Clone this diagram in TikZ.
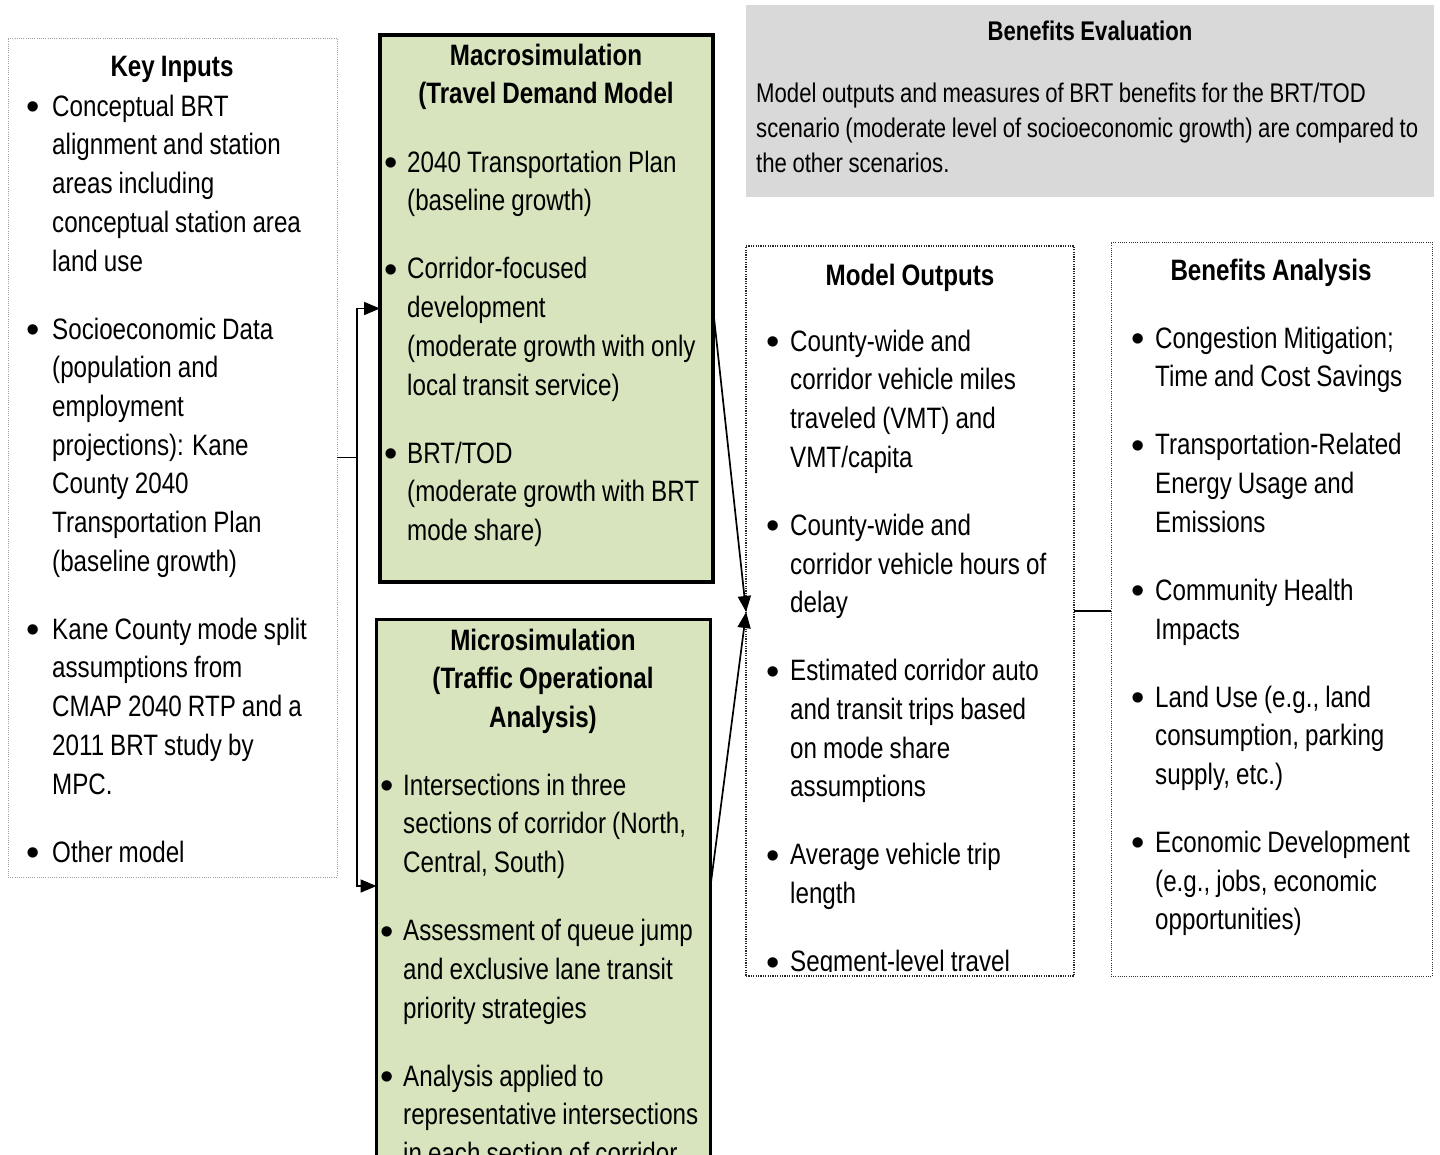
\documentclass[tikz,border=0pt]{standalone}
\usepackage{fontspec}
\setmainfont{Liberation Sans}[FakeStretch=0.82,WordSpace=0.9]
\newfontfamily\bulfont{Liberation Sans}
\usetikzlibrary{arrows.meta,calc}
\definecolor{boxgreen}{HTML}{D7E4BD}
\definecolor{boxgray}{HTML}{D9D9D9}
\newlength\bind
\newcommand{\nl}{\hfil\break}
\newcommand{\bitem}[1]{\noindent\hangindent=\bind\hangafter=1\relax
  \makebox[\bind][l]{\raisebox{-3.5pt}{\bulfont\fontsize{38}{38}\selectfont\textbullet}}\rule{0pt}{30pt}#1\par}
\tikzset{
  bodyfont/.style={font=\fontsize{29.5}{38.7}\selectfont},
  body/.style={bodyfont, anchor=north west, inner sep=0pt, align=flush left,
     execute at begin node={\setlength{\parskip}{29.3pt}\setlength{\bind}{#1}}},
  hdr/.style={font=\fontsize{29.5}{38.7}\selectfont\bfseries, anchor=north, inner sep=0pt, align=center},
  dotbox/.style={draw=gray!75, dash pattern=on 1pt off 1.2pt, line width=0.8pt, inner sep=0pt, outer sep=0pt, anchor=north west},
  outbox/.style={draw=black!85, dash pattern=on 1.2pt off 1.2pt, line width=1.2pt, inner sep=0pt, outer sep=0pt, anchor=north west},
  greenbox/.style={draw=black, fill=boxgreen, line width=3.2pt, inner sep=0pt, outer sep=0pt, anchor=north west},
  graybox/.style={fill=boxgray, inner sep=0pt, outer sep=0pt, anchor=north west},
  arr/.style={line width=1.7pt, -{Triangle[length=16pt,width=13pt]}},
  conn/.style={line width=1.7pt}
}
\begin{document}
\begin{tikzpicture}[x=1pt,y=-1pt]
\useasboundingbox (0,0) rectangle (1440,1154);
\clip (0,0) rectangle (1440,1154);
\fill[white] (0,0) rectangle (1440,1154);

% boxes
\node[dotbox, minimum width=329pt, minimum height=839pt] (keyin) at (8,38) {};
\node[greenbox, minimum width=333pt, minimum height=547pt] (macro) at (380,35) {};
\node[greenbox, minimum width=334pt, minimum height=600pt] (micro) at (376.5,619.5) {};
\node[graybox, minimum width=688pt, minimum height=192pt] (beval) at (746,5) {};
\node[outbox, minimum width=328pt, minimum height=730pt] (mout) at (746,246) {};
\node[dotbox, draw=black!80, line width=1pt, minimum width=321pt, minimum height=734pt] (bana) at (1111,242) {};

% Key inputs
\node[hdr] (keyhdr) at (172,46) {\rule{0pt}{30pt}Key Inputs};
\node[body=25.6pt, text width=330pt] (keytxt) at (26.4,86) {%
\bitem{Conceptual BRT\nl alignment and station\nl areas including\nl conceptual station area\nl land use}
\bitem{Socioeconomic Data\nl (population and\nl employment\nl projections): Kane\nl County 2040\nl Transportation Plan\nl (baseline growth)}
\bitem{Kane County mode split\nl assumptions from\nl CMAP 2040 RTP and a\nl 2011 BRT study by\nl MPC.}
\bitem{Other model}};

% Macro
\node[hdr] (machdr) at (546,35) {\rule{0pt}{30pt}Macrosimulation\\(Travel Demand Model};
\node[body=22.6pt, text width=330pt] (mactxt) at (384.4,142) {%
\bitem{2040 Transportation Plan\nl (baseline growth)}
\bitem{Corridor-focused\nl development\nl (moderate growth with only\nl local transit service)}
\bitem{BRT/TOD\nl (moderate growth with BRT\nl mode share)}};

% Micro
\node[hdr] (michdr) at (543,620) {\rule{0pt}{30pt}Microsimulation\\(Traffic Operational\\Analysis)};
\node[body=22.6pt, text width=330pt] (mictxt) at (380.4,765) {%
\bitem{Intersections in three\nl sections of corridor (North,\nl Central, South)}
\bitem{Assessment of queue jump\nl and exclusive lane transit\nl priority strategies}
\bitem{Analysis applied to\nl representative intersections\nl in each section of corridor}};

% Benefits evaluation
\node[font=\fontsize{27}{35}\selectfont\bfseries, anchor=base, inner sep=0pt] (bevhdr) at (1090,40) {Benefits Evaluation};
\node[font=\fontsize{27}{35}\selectfont, anchor=north west, inner sep=0pt, align=left] (bevtxt) at (756,72.5) {\rule{0pt}{30pt}Model outputs and measures of BRT benefits for the BRT/TOD\\scenario (moderate level of socioeconomic growth) are compared to\\the other scenarios.};

% Model outputs
\node[hdr] (mouthdr) at (910,255) {\rule{0pt}{30pt}Model Outputs};
\begin{scope}
\clip (746,246) rectangle (1074,971);
\node[body=23.6pt, text width=300pt] (mouttxt) at (766.4,321) {%
\bitem{County-wide and\nl corridor vehicle miles\nl traveled (VMT) and\nl VMT/capita}
\bitem{County-wide and\nl corridor vehicle hours of\nl delay}
\bitem{Estimated corridor auto\nl and transit trips based\nl on mode share\nl assumptions}
\bitem{Average vehicle trip\nl length}
\bitem{Segment-level travel\nl times}};
\end{scope}

% Benefits analysis
\node[hdr] (banahdr) at (1271,250) {\rule{0pt}{30pt}Benefits Analysis};
\node[body=23.6pt, text width=300pt] (banatxt) at (1131.4,318) {%
\bitem{Congestion Mitigation;\nl Time and Cost Savings}
\bitem{Transportation-Related\nl Energy Usage and\nl Emissions}
\bitem{Community Health\nl Impacts}
\bitem{Land Use (e.g., land\nl consumption, parking\nl supply, etc.)}
\bitem{Economic Development\nl (e.g., jobs, economic\nl opportunities)}};

% connectors
\coordinate (microin) at (0,886);
\draw[conn] (keyin.east) -- ++(20,0) coordinate (split);
\draw[arr] (split) |- (macro.west);
\draw[arr] (split) |- (micro.west |- microin);
\draw[arr, shorten >=-1pt] (macro.east) -- (mout.west);
\draw[arr, shorten >=-1pt] (micro.east |- microin) -- ($(mout.west)+(0,2)$);
\draw[conn] (mout.east) -- (mout.east -| bana.west);
\end{tikzpicture}
\end{document}
